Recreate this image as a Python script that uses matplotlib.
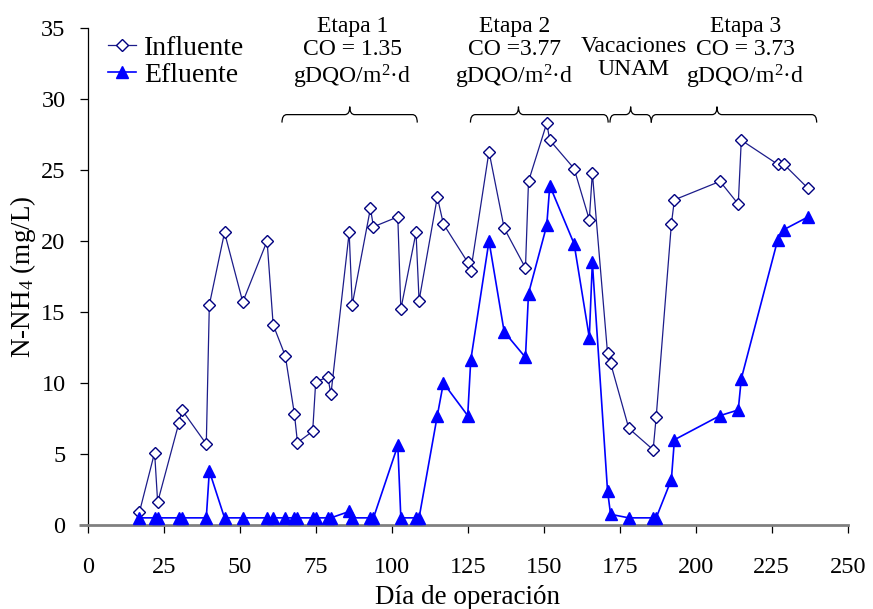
import matplotlib
matplotlib.use('Agg')
import matplotlib.pyplot as plt
from matplotlib.path import Path
from matplotlib.patches import PathPatch

plt.rcParams['font.family'] = ['Liberation Serif', 'DejaVu Serif']
plt.rcParams['mathtext.fontset'] = 'custom'
plt.rcParams['mathtext.rm'] = 'Liberation Serif'
plt.rcParams['mathtext.it'] = 'Liberation Serif:italic'

# Dia de operacion (same sampling days for both series)
dias = [17, 22, 23, 30, 31, 39, 40, 45, 51, 59, 61, 65, 68, 69, 74, 75, 79, 80,
        86, 87, 93, 94, 102, 103, 108, 109, 115, 117, 125, 126, 132, 137, 144, 145,
        151, 152, 160, 165, 166, 171, 172, 178, 186, 187, 192, 193, 208, 214, 215,
        227, 229, 237]

# N-NH4 (mg/L)
influente = [0.9, 5.1, 1.6, 7.2, 8.1, 5.7, 15.5, 20.6, 15.7, 20.0, 14.1, 11.9, 7.8, 5.8,
             6.6, 10.1, 10.4, 9.2, 20.6, 15.5, 22.3, 21.0, 21.7, 15.2, 20.6, 15.8, 23.1,
             21.2, 18.5, 17.9, 26.3, 20.9, 18.1, 24.2, 28.3, 27.1, 25.1, 21.5, 24.8, 12.1,
             11.4, 6.8, 5.3, 7.6, 21.2, 22.9, 24.2, 22.6, 27.1, 25.4, 25.4, 23.7]
efluente = [0.5, 0.5, 0.5, 0.5, 0.5, 0.5, 3.8, 0.5, 0.5, 0.5, 0.5, 0.5, 0.5, 0.5,
            0.5, 0.5, 0.5, 0.5, 0.95, 0.5, 0.5, 0.5, 5.6, 0.5, 0.5, 0.5, 7.7,
            10.0, 7.7, 11.6, 20.0, 13.6, 11.8, 16.3, 21.1, 23.9, 19.8, 13.2, 18.5, 2.4,
            0.75, 0.5, 0.5, 0.5, 3.2, 6.0, 7.7, 8.1, 10.3, 20.1, 20.8, 21.7]

# stage annotations: text, text centre day, brace start, brace end, brace tip
etapas = ['Etapa 1\nCO = 1.35\ngDQO/m$^2$·d',
          'Etapa 2\nCO =3.77\ngDQO/m$^2$·d',
          'Vacaciones\nUNAM',
          'Etapa 3\nCO = 3.73\ngDQO/m$^2$·d']
etapa_x = [87.0, 140.4, 179.6, 216.3]
llave_ini = [63.9, 125.9, 171.8, 185.4]
llave_fin = [108.4, 171.2, 185.4, 239.8]
llave_pico = [86.2, 141.7, 178.6, 207.0]


def llave(ax, x0, x1, xt, yb=28.9, h=0.56, r=1.6):
    verts = [(x0, yb - h), (x0, yb), (x0 + r, yb),
             (xt - r, yb), (xt, yb), (xt, yb + h),
             (xt, yb), (xt + r, yb),
             (x1 - r, yb), (x1, yb), (x1, yb - h)]
    codes = [Path.MOVETO, Path.CURVE3, Path.CURVE3,
             Path.LINETO, Path.CURVE3, Path.CURVE3,
             Path.CURVE3, Path.CURVE3,
             Path.LINETO, Path.CURVE3, Path.CURVE3]
    ax.add_patch(PathPatch(Path(verts, codes), fill=False, lw=0.9,
                           edgecolor='black', clip_on=False))


fig = plt.figure(figsize=(8.73, 6.09), dpi=100)
ax = fig.add_axes([0.1005, 0.138, 0.8705, 0.816])

ax.plot(dias, influente, color='#1c1c8a', lw=0.9, marker='D', markersize=6,
        markerfacecolor='white', markeredgecolor='#000080', markeredgewidth=1.0,
        label='Influente', zorder=3)
ax.plot(dias, efluente, color='#0000ff', lw=1.2, marker='^', markersize=8,
        markerfacecolor='#0000ff', markeredgecolor='#0000ff',
        label='Efluente', zorder=4)

ax.set_xlim(0, 250)
ax.set_ylim(0, 35)
ax.set_xticks(range(0, 251, 25))
ax.set_yticks(range(0, 36, 5))

for s in ['top', 'right']:
    ax.spines[s].set_visible(False)
ax.spines['left'].set_linewidth(0.9)
ax.spines['bottom'].set_color('#808080')
ax.spines['bottom'].set_linewidth(2)
ax.plot([-0.011, 0], [0, 0], transform=ax.transAxes, color='#808080', lw=2,
        clip_on=False, solid_capstyle='butt')

ax.tick_params(axis='y', direction='out', length=6, width=0.9, pad=10, labelsize=17.5)
ax.tick_params(axis='x', direction='out', length=6, width=0.9, pad=17, labelsize=17.5)

ax.set_xlabel('Día de operación', fontsize=19.5, labelpad=5)
ax.set_ylabel('N-NH$_4$ (mg/L)', fontsize=19.5)
ax.yaxis.set_label_coords(-0.066, 0.5)

ax.legend(loc='upper left', bbox_to_anchor=(0.027, 0.985), frameon=False, fontsize=20,
          handlelength=1.0, handletextpad=0.3, labelspacing=0.05, borderpad=0.0,
          borderaxespad=0.0)

for txt, xc, a, b, p in zip(etapas, etapa_x, llave_ini, llave_fin, llave_pico):
    ax.text(xc, 33.2 if 'Etapa' in txt else 32.9, txt, ha='center', va='center',
            fontsize=17, linespacing=1.15, multialignment='center')
    llave(ax, a, b, p)

fig.savefig('out.png', dpi=100)
